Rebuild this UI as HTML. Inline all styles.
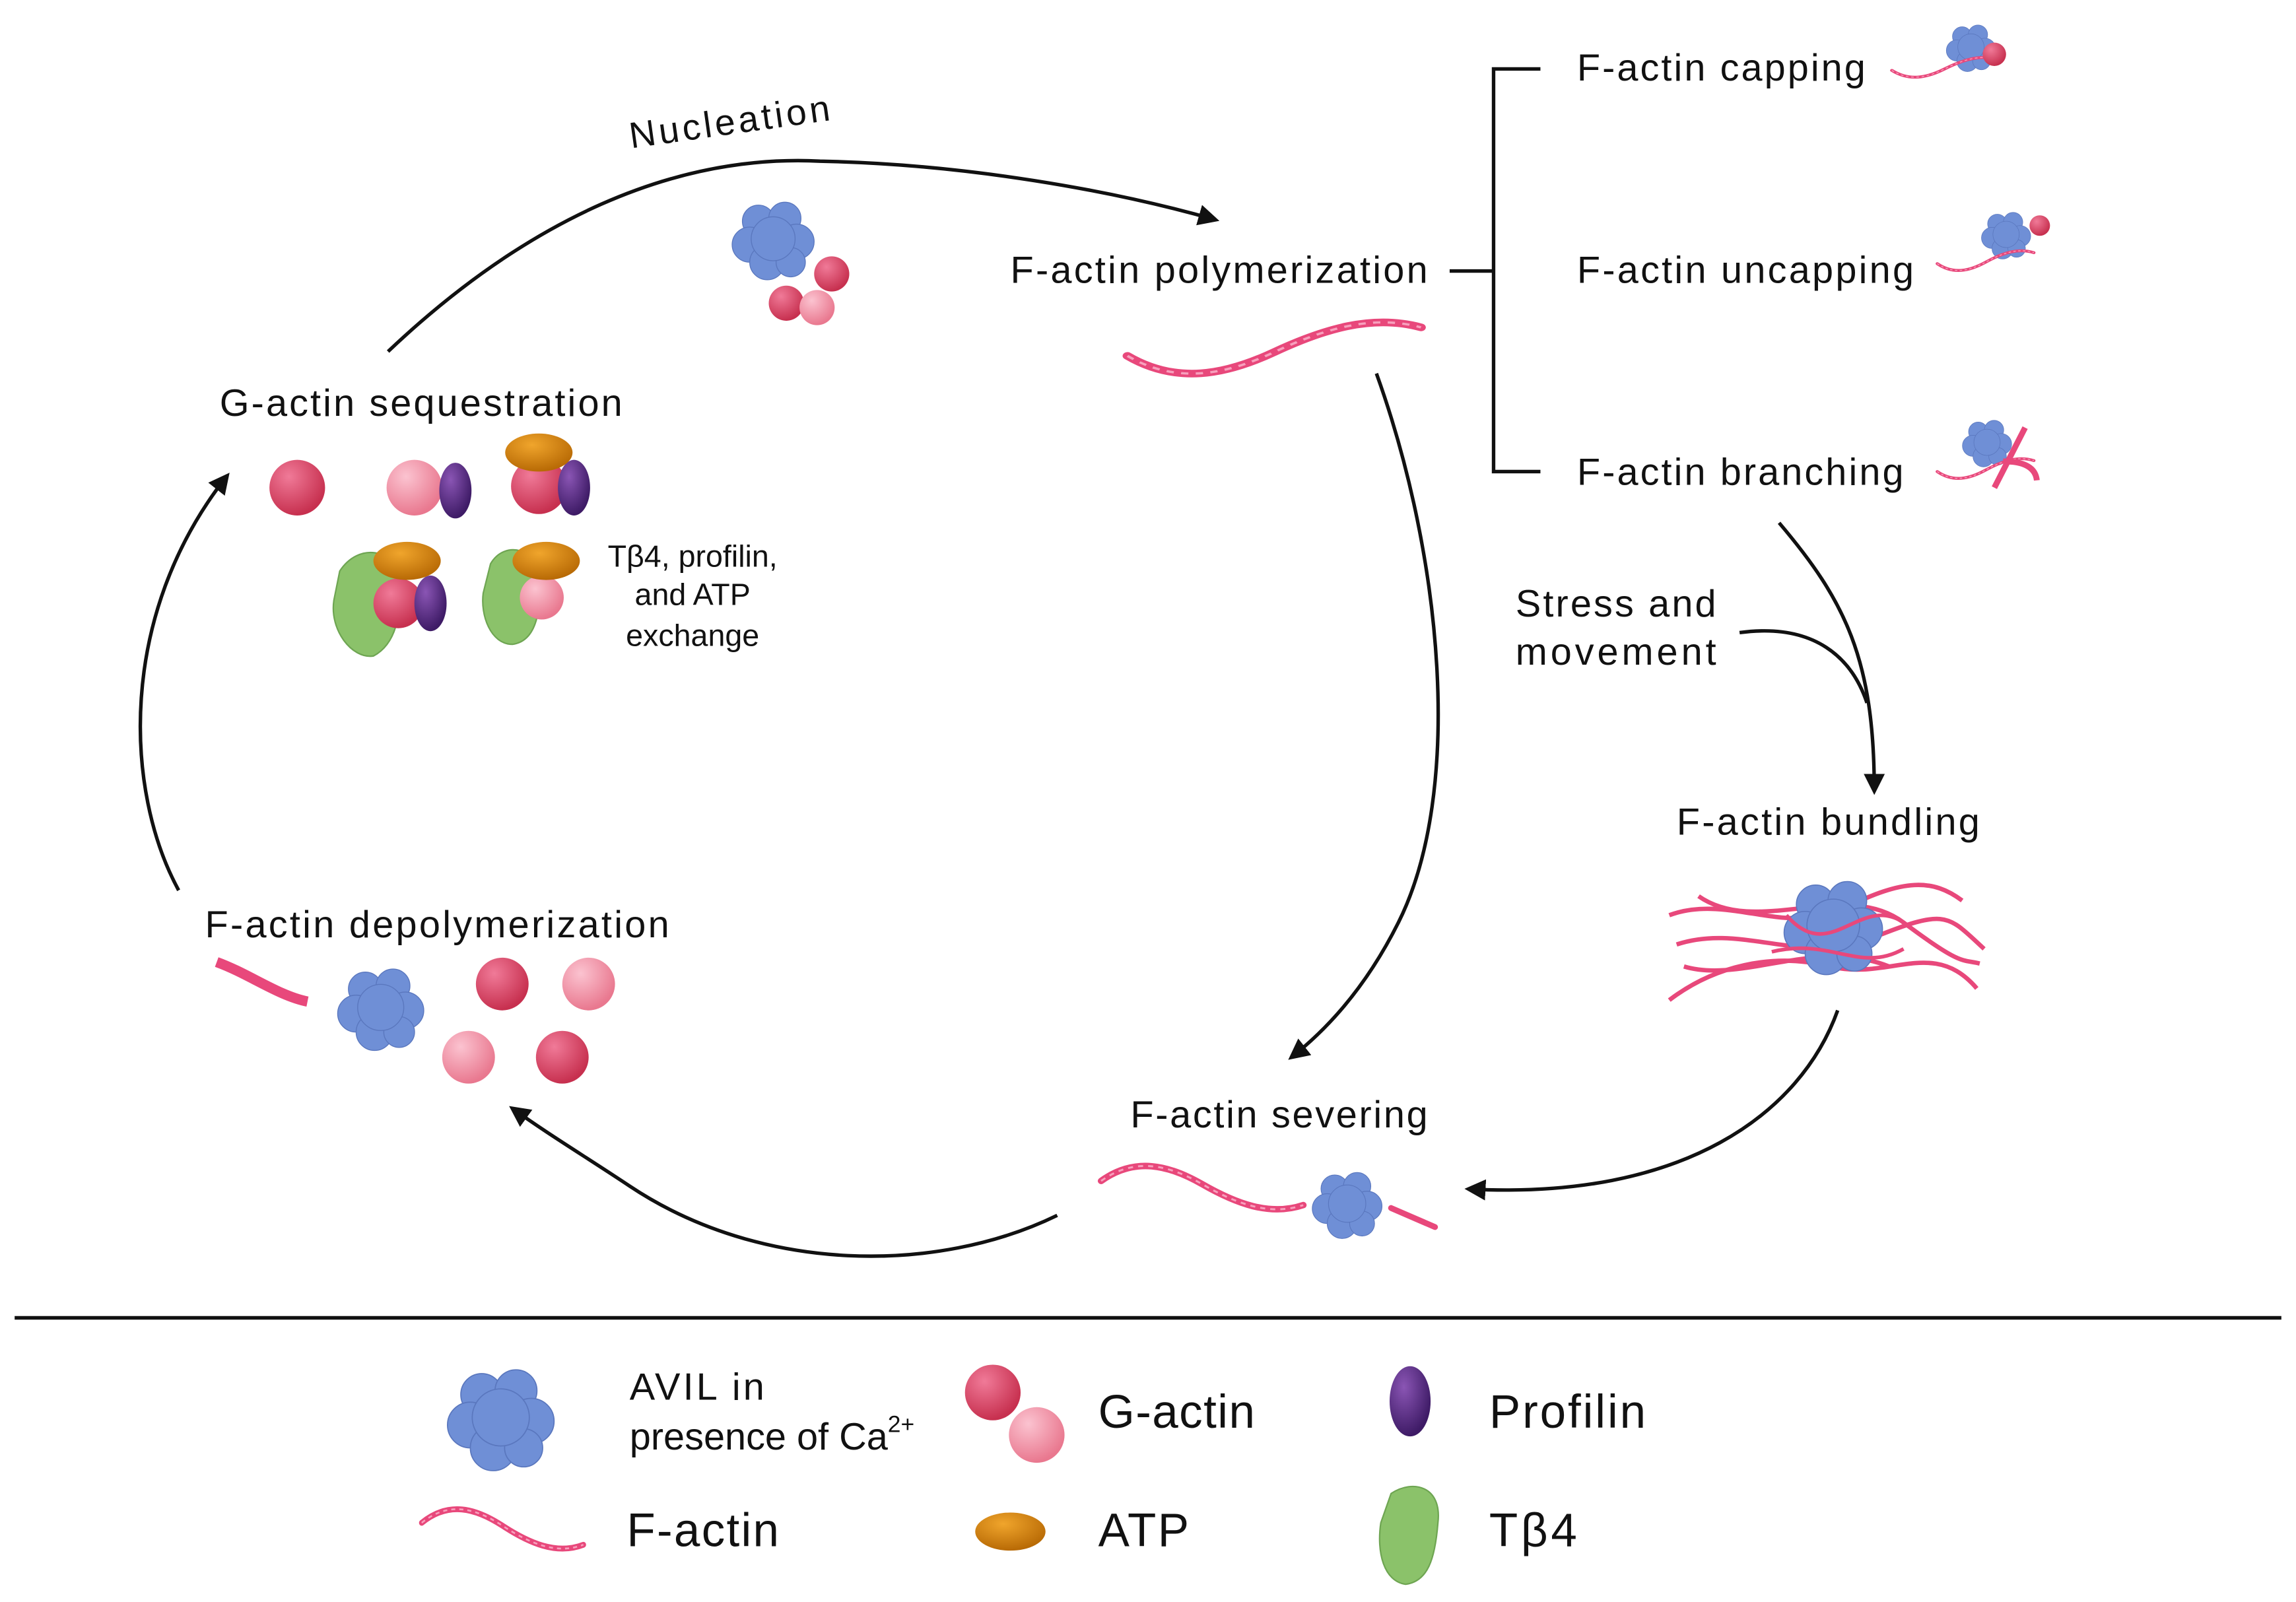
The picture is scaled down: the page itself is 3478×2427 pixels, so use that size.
<!DOCTYPE html>
<html><head><meta charset="utf-8"><style>
html,body{margin:0;padding:0;background:#fff}
svg{display:block}
text{font-family:"Liberation Sans",sans-serif;fill:#111}
</style></head><body>
<svg width="3478" height="2427" viewBox="0 0 1568 1094" xmlns="http://www.w3.org/2000/svg">
<defs>
<radialGradient id="pd" cx="0.35" cy="0.3" r="0.7"><stop offset="0" stop-color="#f07a98"/><stop offset="1" stop-color="#c7304f"/></radialGradient>
<radialGradient id="pl" cx="0.35" cy="0.3" r="0.7"><stop offset="0" stop-color="#fbc3d0"/><stop offset="1" stop-color="#e9788f"/></radialGradient>
<radialGradient id="pu" cx="0.35" cy="0.3" r="0.7"><stop offset="0" stop-color="#8a55b4"/><stop offset="1" stop-color="#3e1b66"/></radialGradient>
<radialGradient id="or" cx="0.4" cy="0.3" r="0.7"><stop offset="0" stop-color="#f0a52c"/><stop offset="1" stop-color="#b86a05"/></radialGradient>
<marker id="ar" viewBox="0 0 10 10" refX="8" refY="5" markerWidth="6" markerHeight="6" orient="auto"><path d="M0,0L10,5L0,10z" fill="#111"/></marker>
<g id="blob"><g fill="#6f8fd6" stroke="#5a77be" stroke-width="0.6">
<circle cx="-10" cy="-12" r="11"/><circle cx="8" cy="-14" r="11"/><circle cx="-16" cy="4" r="12"/><circle cx="16" cy="2" r="12"/><circle cx="-4" cy="16" r="12"/><circle cx="12" cy="16" r="10"/><circle cx="0" cy="0" r="15"/></g></g>
<g id="fil"><path d="M0,20 C20,35 40,30 60,18 S100,-2 120,5" fill="none" stroke="#e8487b" stroke-width="4" stroke-linecap="round"/><path d="M0,20 C20,35 40,30 60,18 S100,-2 120,5" fill="none" stroke="#f7a0bd" stroke-width="1.2" stroke-dasharray="3 3"/></g>
</defs>

<g fill="none" stroke="#111" stroke-width="2.4">
<path d="M265,240 C360,150 460,105 560,110 C660,112 760,130 830,150" marker-end="url(#ar)"/>
<path d="M940,255 C985,380 1000,540 955,630 C935,670 910,700 882,722" marker-end="url(#ar)"/>
<path d="M722,830 C640,870 520,870 430,810 C400,790 375,775 350,757" marker-end="url(#ar)"/>
<path d="M122,608 C85,540 80,420 155,325" marker-end="url(#ar)"/>
<path d="M1215,357 C1260,410 1280,450 1280,540" marker-end="url(#ar)"/>
<path d="M1188,432 C1240,425 1265,450 1275,480"/>
<path d="M1255,690 C1230,760 1150,820 1003,812" marker-end="url(#ar)"/>
<path d="M990,185 H1020 M1052,47 H1020 V322 H1052"/>
</g>
<line x1="10" y1="900" x2="1558" y2="900" stroke="#111" stroke-width="2.5"/>

<text x="428" y="92" font-size="25" textLength="138" transform="rotate(-8 495 75)">Nucleation</text>
<text x="690" y="193" font-size="26" textLength="285">F-actin polymerization</text>
<text x="1077" y="55" font-size="26" textLength="197">F-actin capping</text>
<text x="1077" y="193" font-size="26" textLength="230">F-actin uncapping</text>
<text x="1077" y="331" font-size="26" textLength="223">F-actin branching</text>
<text x="1035" y="421" font-size="26" textLength="137">Stress and</text>
<text x="1035" y="454" font-size="26" textLength="137">movement</text>
<text x="1145" y="570" font-size="26" textLength="207">F-actin bundling</text>
<text x="772" y="770" font-size="26" textLength="203">F-actin severing</text>
<text x="140" y="640" font-size="26" textLength="317">F-actin depolymerization</text>
<text x="150" y="284" font-size="26" textLength="275">G-actin sequestration</text>
<text x="473" y="387" font-size="21" text-anchor="middle">Tβ4, profilin,</text>
<text x="473" y="413" font-size="21" text-anchor="middle">and ATP</text>
<text x="473" y="441" font-size="21" text-anchor="middle">exchange</text>

<use href="#blob" x="528" y="163"/>
<circle cx="568" cy="187" r="12" fill="url(#pd)"/>
<circle cx="537" cy="207" r="12" fill="url(#pd)"/>
<circle cx="558" cy="210" r="12" fill="url(#pl)"/>
<use href="#fil" transform="translate(770,217) scale(1.67,1.3)"/>

<use href="#blob" transform="translate(1346,32) scale(0.6)"/>
<use href="#fil" transform="translate(1292,38) scale(0.6,0.5)"/>
<circle cx="1362" cy="37" r="8" fill="url(#pd)"/>
<use href="#blob" transform="translate(1370,160) scale(0.6)"/>
<use href="#fil" transform="translate(1323,170) scale(0.55,0.5)"/>
<circle cx="1393" cy="154" r="7" fill="url(#pd)"/>
<use href="#blob" transform="translate(1357,302) scale(0.6)"/>
<use href="#fil" transform="translate(1323,312) scale(0.55,0.5)"/>
<path d="M1383,292 L1362,333 M1368,315 C1380,315 1390,318 1391,328" stroke="#e8487b" stroke-width="4" fill="none"/>

<g fill="none" stroke="#e8487b" stroke-width="3">
<path d="M1140,625 C1180,610 1220,640 1260,620 S1320,600 1340,615"/>
<path d="M1145,645 C1190,630 1230,660 1280,640 S1330,625 1355,648"/>
<path d="M1140,683 C1170,660 1210,650 1250,660 S1320,640 1350,675"/>
<path d="M1160,612 C1200,640 1260,600 1300,630 S1340,655 1352,658"/>
<path d="M1150,660 C1190,672 1240,640 1290,660"/>
</g>
<use href="#blob" transform="translate(1252,632) scale(1.2)"/>
<path d="M1220,625 C1250,660 1270,610 1300,630 M1210,650 C1250,640 1270,665 1300,648" stroke="#e8487b" stroke-width="2.5" fill="none"/>

<use href="#fil" transform="translate(752,790) scale(1.15,1.1) scale(1,-1) translate(0,-35)"/>
<use href="#blob" transform="translate(920,822) scale(0.85)"/>
<path d="M950,825 L980,838" stroke="#e8487b" stroke-width="4" stroke-linecap="round"/>

<path d="M148,657 C170,665 190,680 210,684" stroke="#e8487b" stroke-width="7" fill="none"/>
<use href="#blob" transform="translate(260,688) scale(1.05)"/>
<circle cx="343" cy="672" r="18" fill="url(#pd)"/>
<circle cx="402" cy="672" r="18" fill="url(#pl)"/>
<circle cx="320" cy="722" r="18" fill="url(#pl)"/>
<circle cx="384" cy="722" r="18" fill="url(#pd)"/>

<circle cx="203" cy="333" r="19" fill="url(#pd)"/>
<circle cx="283" cy="333" r="19" fill="url(#pl)"/>
<ellipse cx="311" cy="335" rx="11" ry="19" fill="url(#pu)"/>
<circle cx="368" cy="332" r="19" fill="url(#pd)"/>
<ellipse cx="392" cy="333" rx="11" ry="19" fill="url(#pu)"/>
<ellipse cx="368" cy="309" rx="23" ry="13" fill="url(#or)"/>
<path d="M232,390 C245,370 270,375 272,395 C275,420 270,440 255,448 C240,450 225,430 228,410 Z" fill="#8bc26a" stroke="#6ea552"/>
<circle cx="272" cy="412" r="17" fill="url(#pd)"/>
<ellipse cx="294" cy="412" rx="11" ry="19" fill="url(#pu)"/>
<ellipse cx="278" cy="383" rx="23" ry="13" fill="url(#or)"/>
<path d="M335,385 C345,368 368,375 368,395 C370,420 365,438 350,440 C335,440 328,420 330,405 Z" fill="#8bc26a" stroke="#6ea552"/>
<circle cx="370" cy="408" r="15" fill="url(#pl)"/>
<ellipse cx="373" cy="383" rx="23" ry="13" fill="url(#or)"/>

<use href="#blob" transform="translate(342,968) scale(1.3)"/>
<text x="430" y="956" font-size="26" textLength="92">AVIL in</text>
<text x="430" y="990" font-size="26">presence of Ca<tspan font-size="16" dy="-12">2+</tspan></text>
<circle cx="678" cy="951" r="19" fill="url(#pd)"/>
<circle cx="708" cy="980" r="19" fill="url(#pl)"/>
<text x="750" y="975" font-size="32" textLength="107">G-actin</text>
<ellipse cx="963" cy="957" rx="14" ry="24" fill="url(#pu)"/>
<text x="1017" y="975" font-size="32" textLength="107">Profilin</text>
<use href="#fil" transform="translate(288,1025) scale(0.92,1) scale(1,-1) translate(0,-35)"/>
<text x="428" y="1056" font-size="32" textLength="104">F-actin</text>
<ellipse cx="690" cy="1046" rx="24" ry="13" fill="url(#or)"/>
<text x="750" y="1056" font-size="32" textLength="62">ATP</text>
<path d="M950,1020 C965,1010 985,1015 982,1040 C980,1065 975,1080 960,1082 C945,1080 940,1060 943,1040 Z" fill="#8bc26a" stroke="#6ea552"/>
<text x="1017" y="1056" font-size="32" textLength="60">Tβ4</text>
</svg>
</body></html>
